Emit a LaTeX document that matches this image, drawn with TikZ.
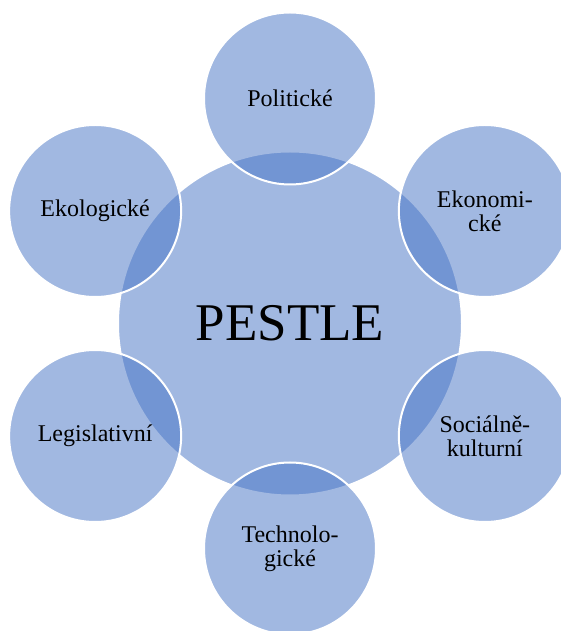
\documentclass[tikz,border=0pt]{standalone}
\usepackage{fontspec}
\setmainfont{Liberation Serif}
\definecolor{pestleblue}{RGB}{68,114,196}

\begin{document}
\begin{tikzpicture}[x=1pt, y=1pt,
    hub/.style={circle, draw=white, line width=2pt, fill=pestleblue, fill opacity=0.5,
        text opacity=1, text=black, minimum size=344pt, text centered,
        font=\fontsize{53}{60}\selectfont},
    factor/.style={circle, draw=white, line width=2pt, fill=pestleblue, fill opacity=0.5,
        text opacity=1, text=black, minimum size=172pt, align=center,
        font=\fontsize{24}{24}\selectfont}
]

\clip (-290,-307.5) rectangle (271,323.5);

\node [hub] (Pestle) at (0,0) {PESTLE};

\node [factor] (Pol) at (90:225) {Politické};
\node [factor] (Eko) at (30:225) {Ekonomi-\\cké};
\node [factor] (Soc) at (-30:225) {Sociálně-\\kulturní};
\node [factor] (Tech) at (-90:225) {Technolo-\\gické};
\node [factor] (Leg) at (-150:225) {Legislativní};
\node [factor] (Ekol) at (150:225) {Ekologické};

\end{tikzpicture}
\end{document}
